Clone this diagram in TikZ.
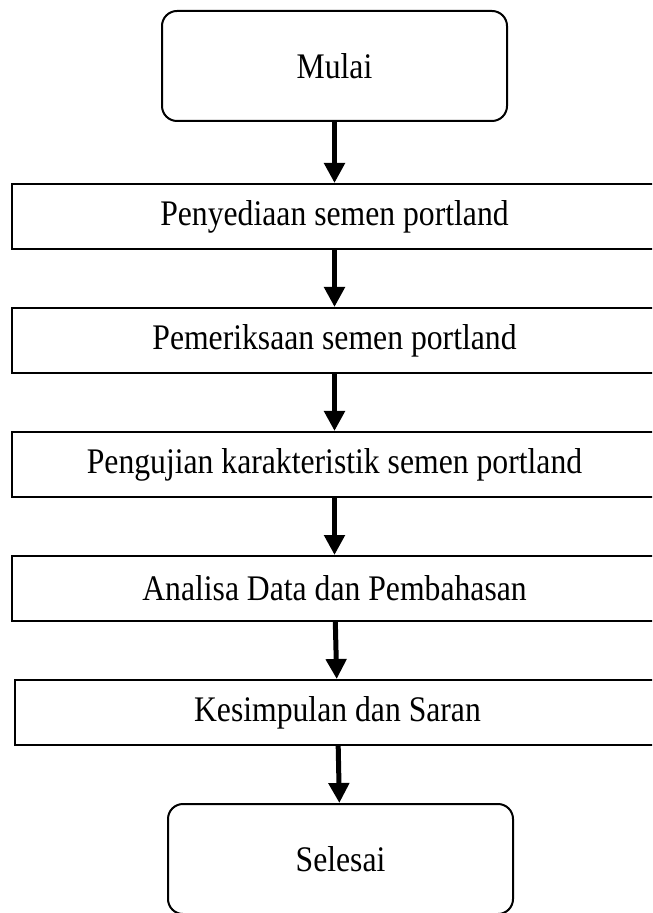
\documentclass[tikz,border=0pt]{standalone}
\usepackage{fontspec}
\setmainfont{Liberation Serif}[FakeStretch=0.88]
\usetikzlibrary{arrows.meta, positioning}

\begin{document}
\begin{tikzpicture}[x=0.5pt,y=-0.5pt,
  terminal/.style={draw, line width=1pt, rounded corners=7.5pt, minimum width=172.5pt, minimum height=55pt, font=\fontsize{18}{21}\selectfont},
  process/.style={draw, line width=1pt, minimum width=323pt, minimum height=32.5pt, font=\fontsize{18}{21}\selectfont},
  flow/.style={line width=2.5pt, -{Triangle[width=10pt,length=10pt]}},
  node distance=28.5pt]
\useasboundingbox (0,0) rectangle (652,913);
\clip (0,0) rectangle (652,913);
%start
\node[terminal] (mulai) at (334.5,66) {Mulai};
%steps
\node[process, below=30.5pt of mulai] (sedia) {Penyediaan semen portland};
\node[process, below=of sedia] (periksa) {Pemeriksaan semen portland};
\node[process, below=of periksa] (uji) {Pengujian karakteristik semen portland};
\node[process, below=of uji] (analisa) {Analisa Data dan Pembahasan};
\node[process, below=of analisa, xshift=1.5pt] (simpul) {Kesimpulan dan Saran};
%end
\node[terminal, below=of simpul, xshift=1.5pt] (selesai) {Selesai};
%arrows
\draw[flow] (mulai) -- (sedia);
\draw[flow] (sedia) -- (periksa);
\draw[flow] (periksa) -- (uji);
\draw[flow] (uji) -- (analisa);
\draw[flow] (analisa) -- (simpul);
\draw[flow] (simpul) -- (selesai);
\end{tikzpicture}
\end{document}
